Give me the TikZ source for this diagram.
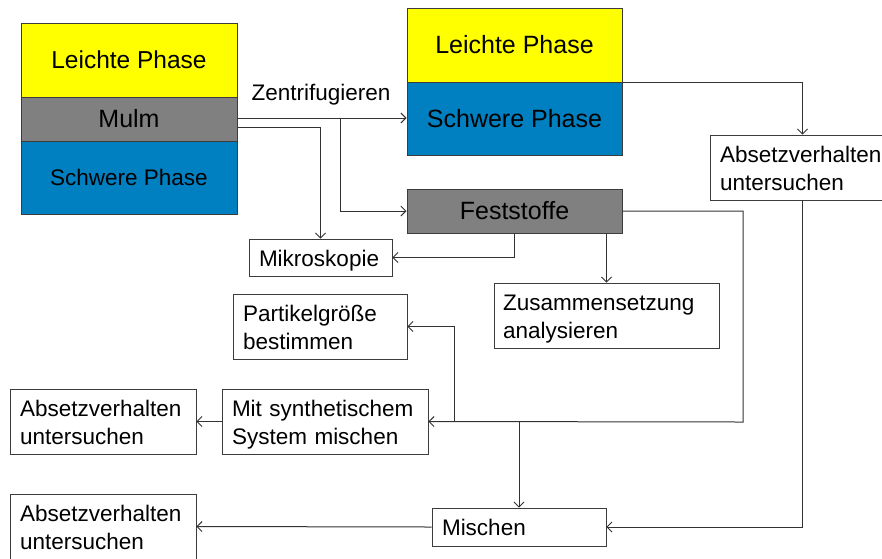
\documentclass[tikz,border=0pt]{standalone}
\usepackage{fontspec}
\setmainfont{Liberation Sans}
\usetikzlibrary{arrows.meta}
\definecolor{phaseyellow}{RGB}{255,255,0}
\definecolor{phaseblue}{RGB}{0,128,192}
\definecolor{mulmgray}{RGB}{128,128,128}
\definecolor{edgegray}{RGB}{60,60,60}
\definecolor{linegray}{RGB}{50,50,50}
\tikzset{
  layer/.style={draw=edgegray, line width=1pt, minimum width=#1, inner sep=0pt, align=center},
  bigtext/.style={font=\fontsize{25}{30}\selectfont},
  smalltext/.style={font=\fontsize{22.5}{28}\selectfont},
  taskbox/.style={draw=edgegray, line width=0.9pt, fill=white, inner xsep=10pt, inner ysep=0pt,
    align=left, smalltext,
    execute at begin node={\rule{0pt}{22pt}},
    execute at end node={\rule[-5pt]{0pt}{5pt}}},
  conn/.style={draw=linegray, line width=1pt,
    -{Straight Barb[length=5pt,width=10pt,line width=0.9pt]}}
}
\begin{document}
\begin{tikzpicture}[x=1pt,y=-1pt]
\useasboundingbox (0,0) rectangle (882,558);
\clip (0,0) rectangle (882,558);

% sample before separation
\node[layer=216pt, minimum height=74pt, fill=phaseyellow, font=\fontsize{24.5}{29}\selectfont] (lp1) at (129,60) {Leichte Phase};
\node[layer=216pt, minimum height=44pt, fill=mulmgray, bigtext] (mulm) at (129,119) {Mulm};
\node[layer=216pt, minimum height=73pt, fill=phaseblue, smalltext] (sp1) at (129,177.5) {Schwere Phase};

% phases after centrifugation
\node[layer=215pt, minimum height=74pt, fill=phaseyellow, bigtext] (lp2) at (514.5,45) {Leichte Phase};
\node[layer=215pt, minimum height=73pt, fill=phaseblue, bigtext] (sp2) at (514.5,118.5) {Schwere Phase};
\node[layer=215pt, minimum height=44pt, fill=mulmgray, bigtext] (fs) at (514.5,211) {Feststoffe};

% analysis steps
\node[taskbox, text width=123pt, minimum height=37pt] (mk) at (320.5,257.5) {Mikroskopie};
\node[taskbox, text width=154pt, minimum height=65pt] (pg) at (320,326.5) {Partikelgröße\\bestimmen};
\node[taskbox, inner xsep=9pt, text width=207pt, minimum height=65pt] (za) at (606.5,315.5) {Zusammensetzung\\analysieren};
\node[taskbox, text width=165pt, minimum height=65pt] (av1) at (802.5,167.5) {Absetzverhalten\\untersuchen};
\node[taskbox, text width=166pt, minimum height=65pt] (av2) at (103,421.5) {Absetzverhalten\\untersuchen};
\node[taskbox, text width=186pt, minimum height=65pt] (ms) at (325,421.5) {Mit synthetischem\\System mischen};
\node[taskbox, text width=166pt, minimum height=65pt] (av3) at (103,526.5) {Absetzverhalten\\untersuchen};
\node[taskbox, text width=154pt, minimum height=38pt] (mi) at (519,527) {Mischen};

\node[smalltext, inner sep=0pt] (zlabel) at (321,95) {Zentrifugieren};

% junction points of the connectors
\coordinate (j1) at (340,118);
\coordinate (c6) at (743,422);
\coordinate (j2) at (454,422);
\coordinate (j3) at (519,422);

% connectors
\draw[conn] (mulm.east |- j1) -- (j1 -| sp2.west);
\draw[conn] (j1) |- (fs.west);
\draw[conn] ([yshift=-8pt]mulm.east) -| (mk.north);
\draw[conn] (fs.south) |- (mk.east);
\draw[conn] (fs.south -| za.north) -- (za.north);
\draw[conn] (fs.east) -| (c6) -- (ms.east);
\draw[conn] (j2) |- (pg.east);
\draw[conn] (j3) -- (mi.north);
\draw[conn] (lp2.south east) -| (av1.north);
\draw[conn] (av1.south) |- (mi.east);
\draw[conn] (mi.west) -- (av3.east);
\draw[conn] (ms.west) -- (av2.east);
\end{tikzpicture}
\end{document}
